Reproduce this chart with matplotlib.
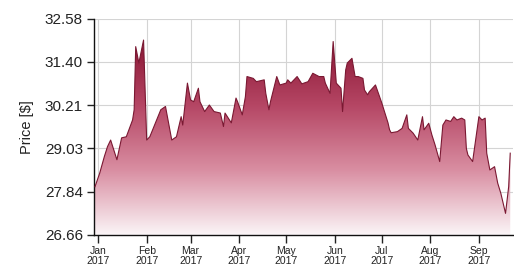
import numpy as np
import pandas as pd
import matplotlib
matplotlib.use("Agg")
import matplotlib.pyplot as plt
import matplotlib.dates as mdates
from matplotlib.colors import LinearSegmentedColormap
from matplotlib.patches import PathPatch

plt.rcParams['font.family'] = ['Liberation Sans', 'DejaVu Sans']

# price readings (daily closes, approx.)
dates = [
    "2016-12-30", "2017-01-02", "2017-01-05", "2017-01-07", "2017-01-09", "2017-01-13",
    "2017-01-16", "2017-01-19", "2017-01-23", "2017-01-24", "2017-01-25", "2017-01-27",
    "2017-01-30", "2017-02-01", "2017-02-03", "2017-02-10", "2017-02-13", "2017-02-17",
    "2017-02-20", "2017-02-23", "2017-02-24", "2017-02-27", "2017-03-01", "2017-03-03",
    "2017-03-06", "2017-03-07", "2017-03-10", "2017-03-13", "2017-03-16", "2017-03-20",
    "2017-03-22", "2017-03-23", "2017-03-27", "2017-03-30", "2017-03-31", "2017-04-03",
    "2017-04-05", "2017-04-06", "2017-04-10", "2017-04-12", "2017-04-17", "2017-04-18",
    "2017-04-20", "2017-04-21", "2017-04-25", "2017-04-27", "2017-05-01", "2017-05-02",
    "2017-05-04", "2017-05-08", "2017-05-11", "2017-05-15", "2017-05-18", "2017-05-22",
    "2017-05-25", "2017-05-26", "2017-05-29", "2017-05-31", "2017-06-02", "2017-06-05",
    "2017-06-06", "2017-06-08", "2017-06-09", "2017-06-12", "2017-06-14", "2017-06-16",
    "2017-06-19", "2017-06-20", "2017-06-22", "2017-06-23", "2017-06-27", "2017-07-01",
    "2017-07-05", "2017-07-06", "2017-07-07", "2017-07-11", "2017-07-14", "2017-07-17",
    "2017-07-18", "2017-07-21", "2017-07-24", "2017-07-27", "2017-07-28", "2017-07-31",
    "2017-08-02", "2017-08-04", "2017-08-07", "2017-08-09", "2017-08-11", "2017-08-14",
    "2017-08-16", "2017-08-18", "2017-08-21", "2017-08-23", "2017-08-24", "2017-08-25",
    "2017-08-28", "2017-09-01", "2017-09-03", "2017-09-05", "2017-09-06", "2017-09-08",
    "2017-09-11", "2017-09-13", "2017-09-15", "2017-09-18", "2017-09-20", "2017-09-21",
]
prices = [
    27.98, 28.35, 28.81, 29.08, 29.26, 28.72,
    29.32, 29.35, 29.81, 30.09, 31.82, 31.37,
    32.00, 29.26, 29.35, 30.09, 30.18, 29.26,
    29.35, 29.90, 29.67, 30.82, 30.36, 30.31,
    30.68, 30.31, 30.04, 30.22, 30.04, 30.00,
    29.63, 30.00, 29.73, 30.41, 30.31, 29.95,
    30.45, 31.00, 30.95, 30.86, 30.91, 30.54,
    30.09, 30.31, 31.00, 30.77, 30.82, 30.91,
    30.82, 31.00, 30.80, 30.86, 31.09, 31.00,
    31.00, 30.82, 30.54, 31.96, 30.82, 30.68,
    30.04, 31.18, 31.37, 31.50, 31.00, 31.00,
    30.95, 30.63, 30.50, 30.58, 30.77, 30.28,
    29.73, 29.54, 29.46, 29.49, 29.58, 29.95,
    29.58, 29.45, 29.26, 29.90, 29.54, 29.72,
    29.40, 29.13, 28.67, 29.67, 29.81, 29.77,
    29.90, 29.81, 29.86, 29.81, 29.03, 28.85,
    28.67, 29.90, 29.81, 29.86, 28.90, 28.44,
    28.53, 28.08, 27.80, 27.25, 27.98, 28.90,
]
yticks = [26.66, 27.84, 29.03, 30.21, 31.40, 32.58]
months = pd.date_range("2017-01-01", "2017-09-01", freq="MS")

x = mdates.date2num(pd.to_datetime(dates))
y = np.array(prices)

fig = plt.figure(figsize=(5.14, 2.70), dpi=100)
ax = fig.add_axes([0.183, 0.13, 0.815, 0.80])

ymin, ymax = yticks[0], yticks[-1]
xmin = mdates.date2num(pd.Timestamp("2016-12-29 10:00"))
xmax = mdates.date2num(pd.Timestamp("2017-09-22 18:00"))

# gradient fill under the price line
fill = ax.fill_between(x, y, ymin, facecolor="none", edgecolor="none")
path = fill.get_paths()[0]
patch = PathPatch(path, transform=ax.transData, facecolor="none", edgecolor="none")
ax.add_patch(patch)
cmap = LinearSegmentedColormap.from_list(
    "crim", ["#fbf5f7", "#d98ea2", "#b54664", "#8a1634"])
grad = np.linspace(0, 1, 256).reshape(-1, 1)
im = ax.imshow(grad, extent=[xmin, xmax, ymin, y.max()], origin="lower",
               aspect="auto", cmap=cmap, zorder=2)
im.set_clip_path(patch)
ax.plot(x, y, color="#7a1832", lw=0.8, zorder=3)

ax.set_xlim(xmin, xmax)
ax.set_ylim(ymin, ymax)
ax.set_yticks(yticks)
ax.set_yticklabels([f"{v:.2f}" for v in yticks])
ax.set_xticks(mdates.date2num(months))
ax.set_xticklabels([f"{m:%b}\n{m:%Y}" for m in months], fontsize=7.5, linespacing=1.0)
ax.tick_params(axis="y", labelsize=11, length=5, width=1, pad=3, colors="#222222")
ax.tick_params(axis="x", length=6, width=1, pad=2, colors="#222222")
ax.set_ylabel("Price [$]", fontsize=10.5, color="#222222", labelpad=8)

ax.grid(True, color="#d4d4d4", lw=0.8, zorder=0)
ax.set_axisbelow(True)
for s in ("top", "right"):
    ax.spines[s].set_visible(False)
for s in ("left", "bottom"):
    ax.spines[s].set_color("#111111")
    ax.spines[s].set_linewidth(1.0)

fig.savefig("out.png", dpi=100)
